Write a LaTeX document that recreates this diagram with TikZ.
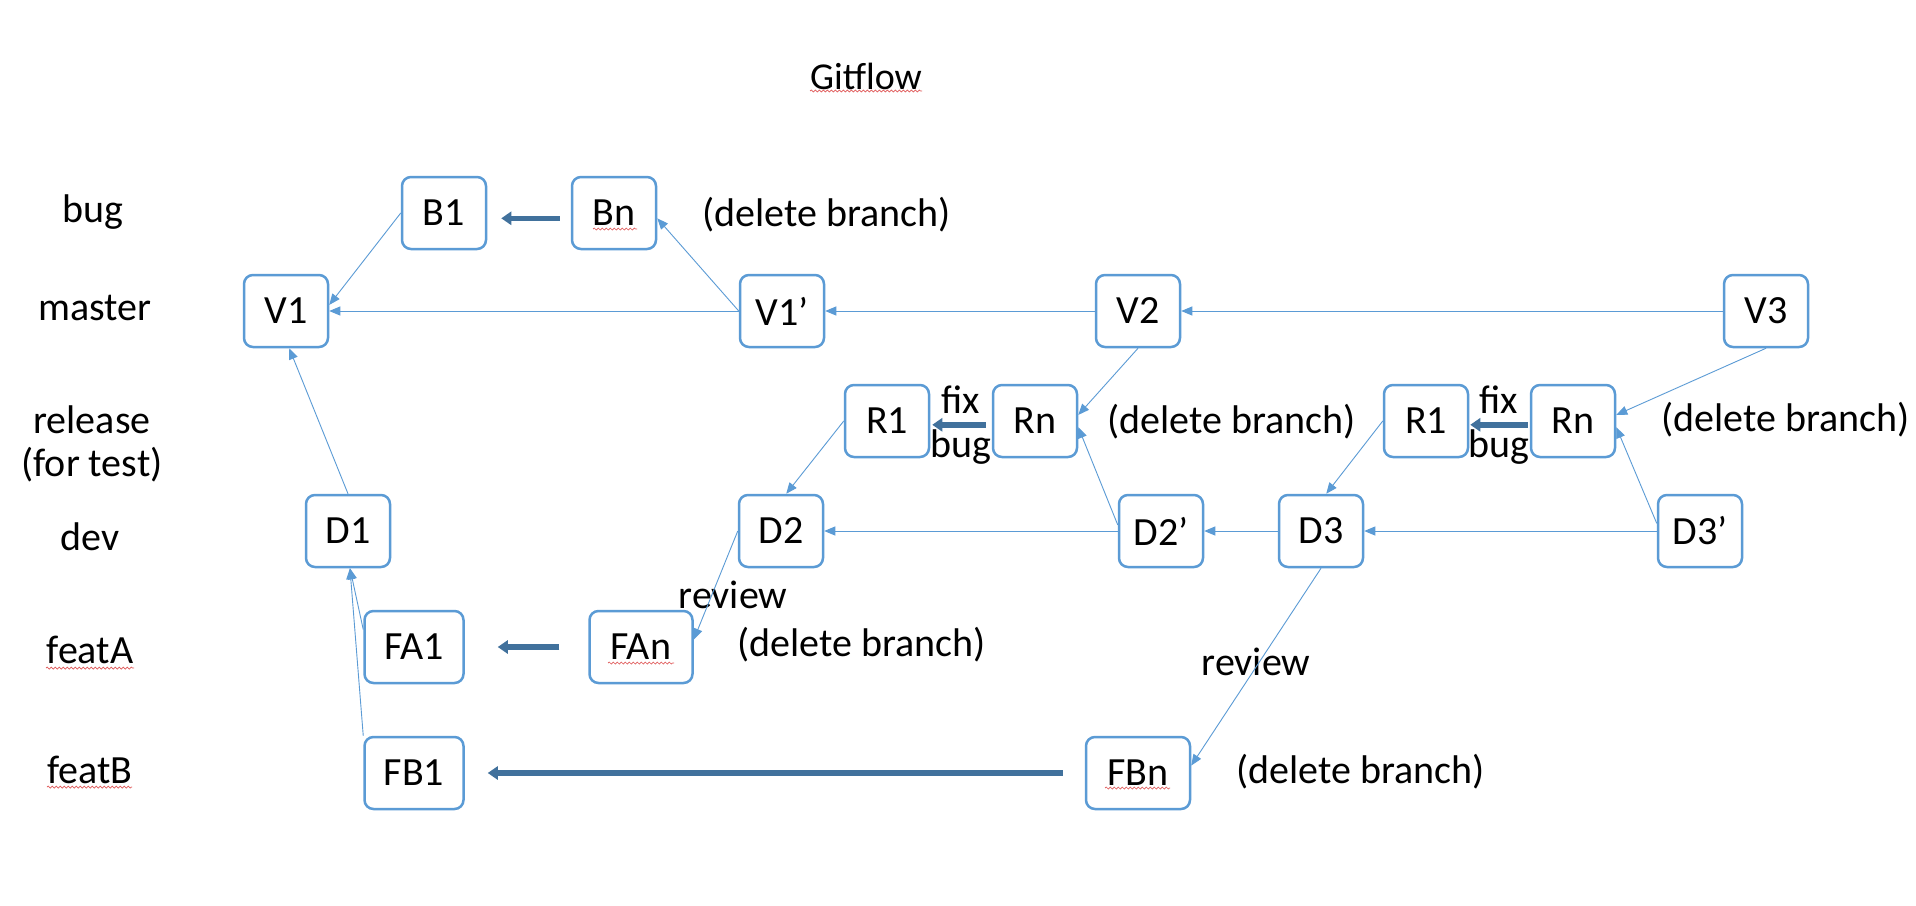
\documentclass[tikz,border=0pt]{standalone}
\usepackage{fontspec}
\setmainfont{Carlito}
\usetikzlibrary{arrows.meta,decorations.pathmorphing}
\definecolor{boxblue}{HTML}{5B9BD5}
\definecolor{thickblue}{HTML}{41719C}
\definecolor{squigred}{HTML}{E05A5A}
\begin{document}
\begin{tikzpicture}[x=1pt,y=-1pt,
  every node/.style={font=\fontsize{40}{46}\selectfont},
  box/.style={draw=boxblue, line width=2.5pt, rounded corners=9pt, minimum width=84pt, minimum height=72pt, inner sep=0pt, fill=white},
  lbl/.style={inner sep=0pt},
  conn/.style={draw=boxblue, line width=0.9pt, -{Triangle[length=11pt,width=9pt]}},
  fat/.style={draw=thickblue, line width=5.5pt, -{Triangle[length=10pt,width=13pt]}},
  squiggle/.style={draw=squigred, line width=0.7pt, decorate, decoration={snake, amplitude=1pt, segment length=4pt}}
]
\fill[white] (0,0) rectangle (1916,905);
\path[use as bounding box] (0,0) rectangle (1916,905);

% labels
\node[lbl, font=\fontsize{38}{44}\selectfont] (title) at (866,76) {Gitflow};
\node[lbl] (Lbug) at (93,212) {bug};
\node[lbl] (Lmaster) at (95,308) {master};
\node[lbl] (Lrel) at (92,420) {release};
\node[lbl] (Lfor) at (92,465) {(for test)};
\node[lbl] (Ldev) at (90,537) {dev};
\node[lbl] (LfeatA) at (90,650) {featA};
\node[lbl] (LfeatB) at (90,770) {featB};

% boxes
\node[box] (B1) at (444,213) {B1};
\node[box] (Bn) at (614,213) {Bn};
\node[box] (V1) at (286,311) {V1};
\node[box] (V1p) at (782,311) {V1’};
\node[box] (V2) at (1138,311) {V2};
\node[box] (V3) at (1766,311) {V3};
\node[box] (R1a) at (887,421) {R1};
\node[box] (Rna) at (1035,421) {Rn};
\node[box] (R1b) at (1426,421) {R1};
\node[box] (Rnb) at (1573,421) {Rn};
\node[box] (D1) at (348,531) {D1};
\node[box] (D2) at (781,531) {D2};
\node[box] (D2p) at (1161,531) {D2’};
\node[box] (D3) at (1321,531) {D3};
\node[box] (D3p) at (1700,531) {D3’};
\node[box, minimum width=99pt] (FA1) at (414,647) {FA1};
\node[box, minimum width=103pt] (FAn) at (641,647) {FAn};
\node[box, minimum width=99pt] (FB1) at (414,773) {FB1};
\node[box, minimum width=104pt] (FBn) at (1138,773) {FBn};

% side texts
\node[lbl,anchor=west] (del1) at (702,215) {(delete branch)};
\node[lbl,anchor=west] (del2) at (1107,422) {(delete branch)};
\node[lbl,anchor=west] (del3) at (1661,420) {(delete branch)};
\node[lbl,anchor=west] (del4) at (737,645) {(delete branch)};
\node[lbl,anchor=west] (del5) at (1236,772) {(delete branch)};
\node[lbl] (fixa) at (961,400) {fix};
\node[lbl] (buga) at (961,447) {bug};
\node[lbl] (fixb) at (1499,400) {fix};
\node[lbl] (bugb) at (1499,447) {bug};
\node[lbl] (rev1) at (733,595) {review};
\node[lbl] (rev2) at (1256,662) {review};

% thin connectors
\draw[conn] (B1.west) -- (V1.8);
\draw[conn] (V1p.west) -- (Bn.-7);
\draw[conn] (V1p.west) -- (V1.east);
\draw[conn] (V2.west) -- (V1p.east);
\draw[conn] (V3.west) -- (V2.east);
\draw[conn] (V2.south) -- (Rna.8);
\draw[conn] (V3.south) -- (Rnb.8);
\draw[conn] (D2p.172) -- (Rna.-8);
\draw[conn] (D3p.170) -- (Rnb.-8);
\draw[conn] (R1a.west) -- (D2.82);
\draw[conn] (R1b.west) -- (D3.82);
\draw[conn] (D2p.west) -- (D2.east);
\draw[conn] (D3.west) -- (D2p.east);
\draw[conn] (D3p.west) -- (D3.east);
\draw[conn] (D1.north) -- (V1.-85);
\draw[conn] (FA1.161) -- (D1.-87);
\draw[conn] (FB1.north west) -- (D1.-87);
\draw[conn] (D2.west) -- (FAn.8);
\draw[conn] (D3.south) -- (FBn.8);

% thick arrows
\draw[fat, shorten <=11pt, shorten >=14pt] (Bn.187) -- (B1.-7);
\draw[fat, shorten <=29pt, shorten >=33pt] (FAn.west) -- (FA1.east);
\draw[fat, shorten <=22pt, shorten >=23pt] (FBn.west) -- (FB1.east);
\draw[fat, shorten <=6pt, shorten >=2pt] (Rna.185) -- (R1a.-5);
\draw[fat, shorten <=2pt, shorten >=1pt] (Rnb.185) -- (R1b.-5);

% spell-check underlines
\draw[squiggle] (810,91) -- (922,91);
\draw[squiggle] (593,229) -- (637,229);
\draw[squiggle] (608,663) -- (674,663);
\draw[squiggle] (1105,788) -- (1170,788);
\draw[squiggle] (46,668) -- (134,668);
\draw[squiggle] (47,787) -- (132,787);
\end{tikzpicture}
\end{document}
